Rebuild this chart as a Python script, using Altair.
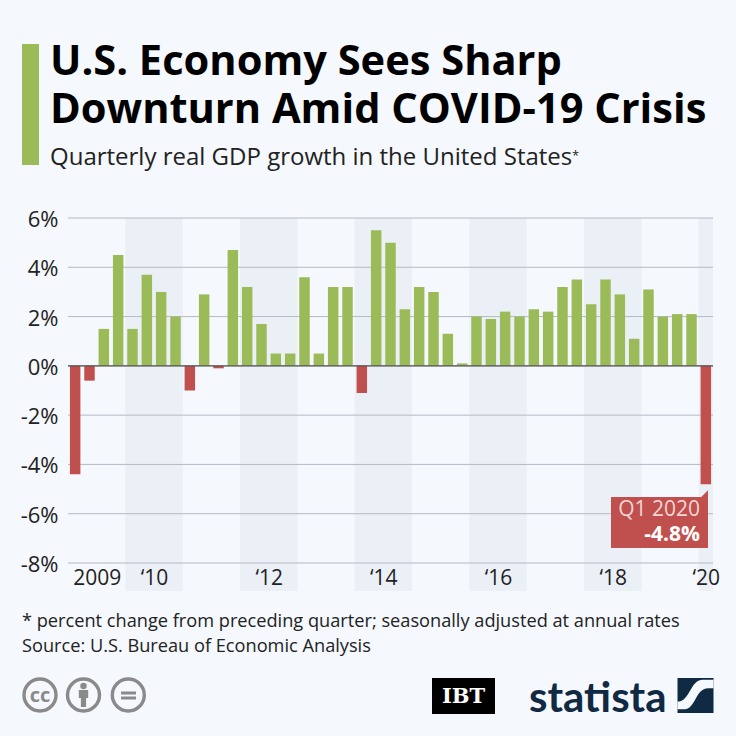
import altair as alt
import pandas as pd

values = [-4.4, -0.6, 1.5, 4.5,
          1.5, 3.7, 3.0, 2.0,
          -1.0, 2.9, -0.1, 4.7,
          3.2, 1.7, 0.5, 0.5,
          3.6, 0.5, 3.2, 3.2,
          -1.1, 5.5, 5.0, 2.3,
          3.2, 3.0, 1.3, 0.1,
          2.0, 1.9, 2.2, 2.0,
          2.3, 2.2, 3.2, 3.5,
          2.5, 3.5, 2.9, 1.1,
          3.1, 2.0, 2.1, 2.1,
          -4.8]
band_starts = [4, 12, 20, 28, 36, 44]
band_ends = [8, 16, 24, 32, 40, 45]
year_ticks = [2, 6, 14, 22, 30, 38, 44.5]
year_labels = ["2009", "\u201810", "\u201812", "\u201814", "\u201816", "\u201818", "\u201820"]
y_ticks = [-8, -6, -4, -2, 0, 2, 4, 6]

GREEN = "#9bbb59"
RED = "#c0504d"
NAVY = "#0f2a42"
BG = "#f5f8fc"
INK = "#222222"
W, H = 645, 345

bars = pd.DataFrame({
    "start": [i + 0.135 for i in range(len(values))],
    "end": [i + 0.865 for i in range(len(values))],
    "v": values,
    "zero": [0] * len(values),
    "kind": ["pos" if v > 0 else "neg" for v in values],
})
bands = pd.DataFrame({"a": band_starts, "b": band_ends, "top": [6] * 6, "bottom": [-9.14] * 6})
label_map = "{" + ",".join(f"'{t}':'{l}'" for t, l in zip(year_ticks, year_labels)) + "}"

x_scale = alt.Scale(domain=[0, 45], nice=False, zero=False)
y_scale = alt.Scale(domain=[-8, 6], nice=False)

band_layer = alt.Chart(bands).mark_rect(color="#ebf0f7").encode(
    x=alt.X("a:Q", scale=x_scale, title=None, axis=alt.Axis(
        values=year_ticks, labelExpr=f"{label_map}[datum.value]", grid=False, domain=False,
        ticks=False, labelFontSize=21, labelFont="Open Sans", labelColor=INK, zindex=1,
        labelPadding=4, labelOverlap=False, labelFlush=False)),
    x2="b:Q",
    y=alt.Y("top:Q", scale=y_scale, title=None, axis=alt.Axis(
        values=y_ticks, labelExpr="datum.value + '%'", grid=False, domain=False, ticks=False,
        labelFontSize=22, labelFont="Open Sans", labelColor=INK, labelPadding=10, labelOffset=1.5)),
    y2="bottom:Q",
)
grid_layer = alt.Chart(pd.DataFrame({"y": y_ticks})).mark_rule(color="#b4b9c4", strokeWidth=1).encode(
    y=alt.Y("y:Q", scale=y_scale)
)
bar_layer = alt.Chart(bars).mark_bar().encode(
    x=alt.X("start:Q", scale=x_scale),
    x2="end:Q",
    y=alt.Y("v:Q", scale=y_scale),
    y2="zero:Q",
    color=alt.Color("kind:N", scale=alt.Scale(domain=["pos", "neg"], range=[GREEN, RED]), legend=None),
)
zero_layer = alt.Chart(pd.DataFrame({"y": [0]})).mark_rule(color="#555555", strokeWidth=1.2).encode(
    y=alt.Y("y:Q", scale=y_scale)
)


def box(px0, py0, px1, py1, color):
    """Rectangle given in page pixels (annotation furniture, not data)."""
    return alt.Chart(pd.DataFrame({"a": [0]})).mark_rect(color=color).encode(
        x=alt.value(px0 - 68), x2=alt.value(px1 - 68), y=alt.value(py0 - 218), y2=alt.value(py1 - 218)
    )


def text(s, px, py, size, color, weight="normal", align="left", font="Open Sans"):
    return alt.Chart(pd.DataFrame({"t": [s]})).mark_text(
        align=align, baseline="alphabetic", fontSize=size, color=color, fontWeight=weight, font=font
    ).encode(text="t:N", x=alt.value(px - 68), y=alt.value(py - 218))


def shape(path, px, py, span, color=None, stroke=None, sw=0):
    """Symbol in page pixels; a path's -1..1 box spans `span` pixels."""
    kw = {"shape": path, "size": span ** 2, "opacity": 1}
    if color:
        kw.update(filled=True, fill=color, strokeWidth=0)
    else:
        kw.update(filled=False, stroke=stroke, strokeWidth=sw)
    return alt.Chart(pd.DataFrame({"a": [0]})).mark_point(**kw).encode(
        x=alt.value(px - 68), y=alt.value(py - 218)
    )


accent = box(22, 44, 39, 165, GREEN)
title1 = text("U.S. Economy Sees Sharp", 50, 75, 41.6, "#000000", weight="bold")
title2 = text("Downturn Amid COVID-19 Crisis", 50, 123, 41.6, "#000000", weight="bold")
subtitle = text("Quarterly real GDP growth in the United States", 50, 165, 24, INK)
subtitle_star = text("*", 572, 160, 13, INK)

callout = box(611, 497, 708, 548, RED)
callout_tip = shape("M0,0L-1,0L0,-1Z", 708, 497, 13.5, color=RED)
callout_a = text("Q1 2020", 700, 516, 21, "#f2d6d5", align="right")
callout_b = text("-4.8%", 700, 541, 21, "#ffffff", weight="bold", align="right")

foot1 = text("* percent change from preceding quarter; seasonally adjusted at annual rates", 22, 626.5, 18.2, INK)
foot2 = text("Source: U.S. Bureau of Economic Analysis", 22, 652, 18.2, INK)

GREY = "#8a8a8a"
icons = []
for cx in (40, 83.5, 128.3):
    icons.append(shape("circle", cx, 695, 32, stroke=GREY, sw=3.4))
icons.append(text("cc", 40, 701.5, 20, GREY, weight="bold", align="center"))
icons.append(shape("M-0.47,-0.8 L0.47,-0.8 L0.47,0 L0.26,0 L0.26,0.9 L-0.26,0.9 L-0.26,0 L-0.47,0 Z", 83.5, 698, 20, color=GREY))
icons.append(shape("circle", 83.5, 686, 6.5, color=GREY))
icons.append(box(121, 691.5, 136, 694.5, GREY))
icons.append(box(121, 696.5, 136, 699.5, GREY))

ibt = [box(432, 678, 495, 714, "#000000"),
       text("IBT", 463.5, 703, 21, "#ffffff", weight="bold", align="center", font="DejaVu Serif")]
statista = text("statista", 529, 712, 42, NAVY, weight="bold", font="Lato")
logo = [box(677.5, 678, 713.5, 713, NAVY),
        shape("M-1,0.34 C-0.3,0.34 -0.3,-0.88 0.4,-0.88 L1,-0.88 L1,-0.4 L0.7,-0.4 "
              "C0,-0.4 0,0.76 -0.6,0.76 L-1,0.76 Z", 695.5, 695.5, 36, color=BG)]

chart = alt.layer(
    band_layer, grid_layer, bar_layer, zero_layer,
    accent, title1, title2, subtitle, subtitle_star,
    callout, callout_tip, callout_a, callout_b, foot1, foot2,
    *icons, *ibt, statista, *logo,
).properties(
    width=W,
    height=H,
    padding={"left": 60, "top": 210, "right": 15, "bottom": 165},
    autosize=alt.AutoSizeParams(type="none"),
    background=BG,
).configure_view(stroke=None)

chart.save("out.html", embed_options={"renderer": "svg", "actions": False,
                                      "defaultStyle": f"body{{background:{BG}}}"})
